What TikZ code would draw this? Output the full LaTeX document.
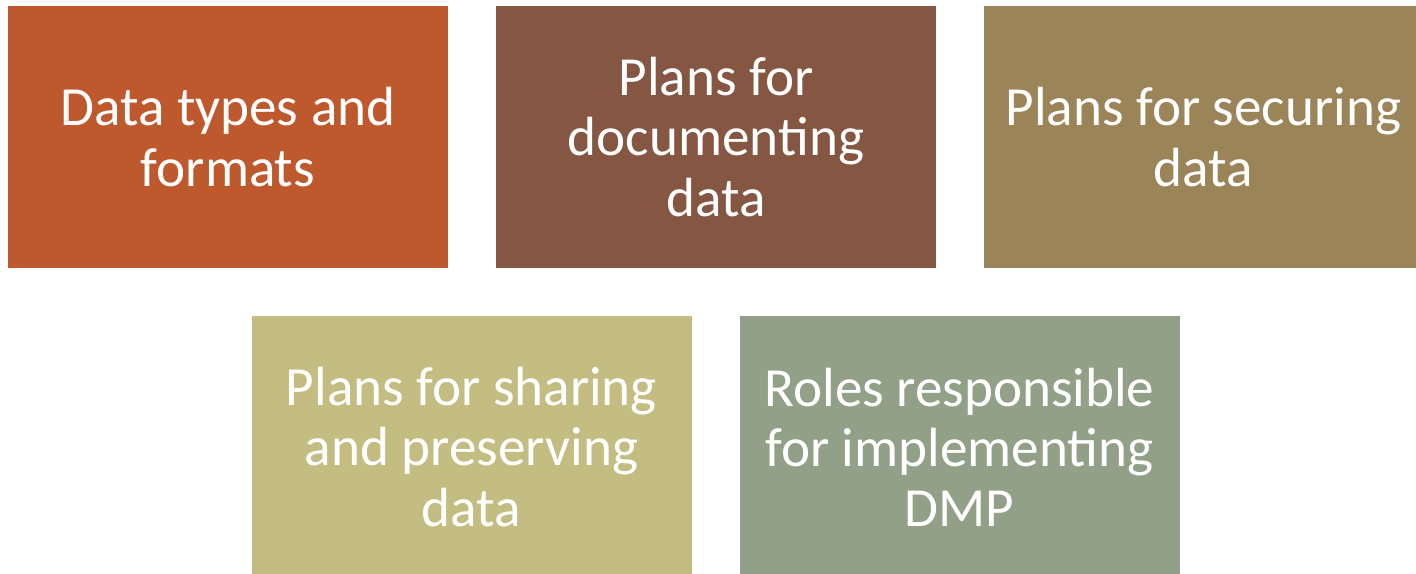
\documentclass[tikz,border=0pt]{standalone}
\usepackage{fontspec}
\setmainfont{Carlito}
\usetikzlibrary{positioning}
\definecolor{rust}{HTML}{BE582D}
\definecolor{umber}{HTML}{855642}
\definecolor{khaki}{HTML}{9B8558}
\definecolor{straw}{HTML}{C3BD82}
\definecolor{sage}{HTML}{93A088}
\tikzset{
    topic/.style={fill=#1,text=white,minimum width=4.4cm,minimum height=2.62cm,
        inner sep=0pt,outer sep=0pt,align=center,
        font=\fontsize{15.7}{17.1}\selectfont}
}

\begin{document}
\begin{tikzpicture}
            \useasboundingbox (0,0) rectangle (14.16,-5.74);
            \node [topic=rust] (types) at (2.28,-1.37) {Data types and\\formats};
            \node [topic=umber,right=0.48cm of types] (documenting) {Plans for\\documenting\\data};
            \node [topic=khaki,right=0.475cm of documenting] (securing) {Plans for securing\\data};
            \node [topic=straw] (sharing) at (4.715,-4.47) {Plans for sharing\\and preserving\\data};
            \node [topic=sage,right=0.48cm of sharing] (roles) {Roles responsible\\for implementing\\DMP};
        \end{tikzpicture}
\end{document}
